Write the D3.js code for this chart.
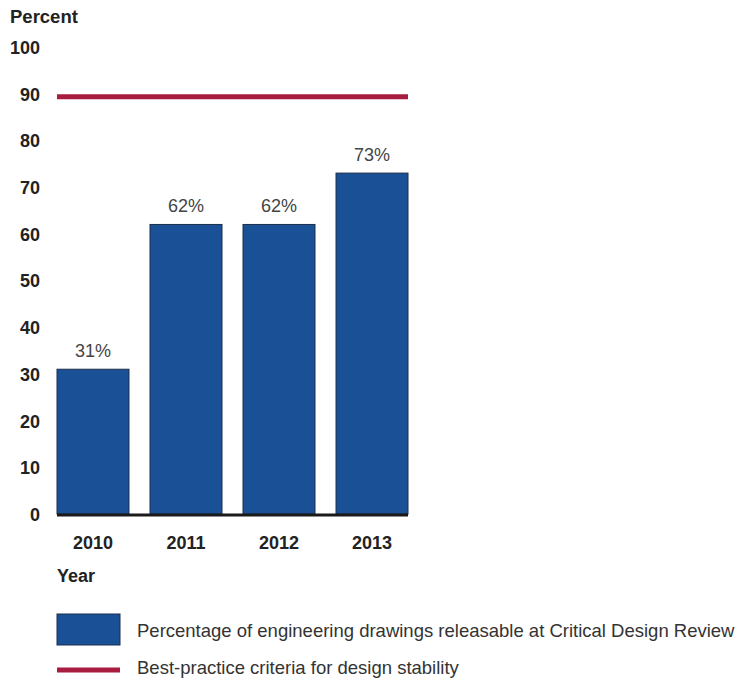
<!DOCTYPE html>
<html>
<head>
<meta charset="utf-8">
<script src="https://cdn.jsdelivr.net/npm/d3@7"></script>
<style>
  html, body { margin: 0; padding: 0; background: #fff; }
  svg { display: block; font-family: "Liberation Sans", Arial, sans-serif; }
</style>
</head>
<body>
<svg id="chart" width="744" height="679"></svg>
<script>
// Chart data
const years = ["2010", "2011", "2012", "2013"];
const releasable = [31, 62, 62, 73];
const criteria = 90;
const yTicks = [0, 10, 20, 30, 40, 50, 60, 70, 80, 90, 100];
const legendLabels = [
  "Percentage of engineering drawings releasable at Critical Design Review",
  "Best-practice criteria for design stability"
];

const barFill = "#1a5096";
const barStroke = "#1c2f4a";
const lineColor = "#a81c40";
const textColor = "#222";

const svg = d3.select("#chart");

const x = d3.scaleBand().domain(years).range([57, 408]).paddingInner(0.226).paddingOuter(0);
const y = d3.scaleLinear().domain([0, 100]).range([514, 47]);

// Y tick labels (no axis line)
const yAxis = d3.axisLeft(y).tickValues(yTicks).tickSize(0).tickPadding(0);
const yg = svg.append("g").attr("transform", "translate(40,0)").call(yAxis);
yg.select(".domain").remove();
yg.selectAll("text")
  .attr("dy", "0.36em")
  .attr("font-size", 18).attr("font-weight", "bold").attr("fill", textColor)
  .attr("font-family", "Liberation Sans, Arial, sans-serif");

svg.append("text").attr("x", 10).attr("y", 23)
  .attr("font-size", 18.5).attr("font-weight", "bold").attr("fill", textColor)
  .text("Percent");

// Bars
svg.append("g").selectAll("rect").data(years).join("rect")
  .attr("x", d => x(d))
  .attr("y", (d, i) => y(releasable[i]))
  .attr("width", x.bandwidth())
  .attr("height", (d, i) => y(0) - y(releasable[i]))
  .attr("fill", barFill)
  .attr("stroke", barStroke).attr("stroke-width", 1);

// Value labels
svg.append("g").selectAll("text").data(years).join("text")
  .attr("x", d => x(d) + x.bandwidth() / 2)
  .attr("y", (d, i) => y(releasable[i]) - 12)
  .attr("text-anchor", "middle")
  .attr("font-size", 18).attr("fill", "#444")
  .text((d, i) => releasable[i] + "%");

// Best-practice line
svg.append("line")
  .attr("x1", 57).attr("x2", 408)
  .attr("y1", y(criteria) + 3).attr("y2", y(criteria) + 3)
  .attr("stroke", lineColor).attr("stroke-width", 5);

// X axis
const xAxis = d3.axisBottom(x).tickSize(0).tickPadding(0);
const xg = svg.append("g").attr("transform", `translate(0,${y(0)})`).call(xAxis);
xg.select(".domain").remove();
xg.selectAll("text")
  .attr("dy", "0").attr("y", 35)
  .attr("font-size", 18).attr("font-weight", "bold").attr("fill", textColor)
  .attr("font-family", "Liberation Sans, Arial, sans-serif");

svg.append("line")
  .attr("x1", 57).attr("x2", 408).attr("y1", y(0) + 1).attr("y2", y(0) + 1)
  .attr("stroke", "#1a1a1a").attr("stroke-width", 3);

svg.append("text").attr("x", 57).attr("y", 582)
  .attr("font-size", 18).attr("font-weight", "bold").attr("fill", textColor)
  .text("Year");

// Legend
const lg = svg.append("g");
lg.append("rect").attr("x", 57).attr("y", 614).attr("width", 63).attr("height", 31)
  .attr("fill", barFill).attr("stroke", barStroke).attr("stroke-width", 1);
lg.append("text").attr("x", 137).attr("y", 637)
  .attr("font-size", 18.5).attr("fill", "#333").text(legendLabels[0]);
lg.append("line").attr("x1", 57).attr("x2", 120).attr("y1", 670).attr("y2", 670)
  .attr("stroke", lineColor).attr("stroke-width", 5);
lg.append("text").attr("x", 137).attr("y", 674)
  .attr("font-size", 18.5).attr("fill", "#333").text(legendLabels[1]);
</script>
</body>
</html>
